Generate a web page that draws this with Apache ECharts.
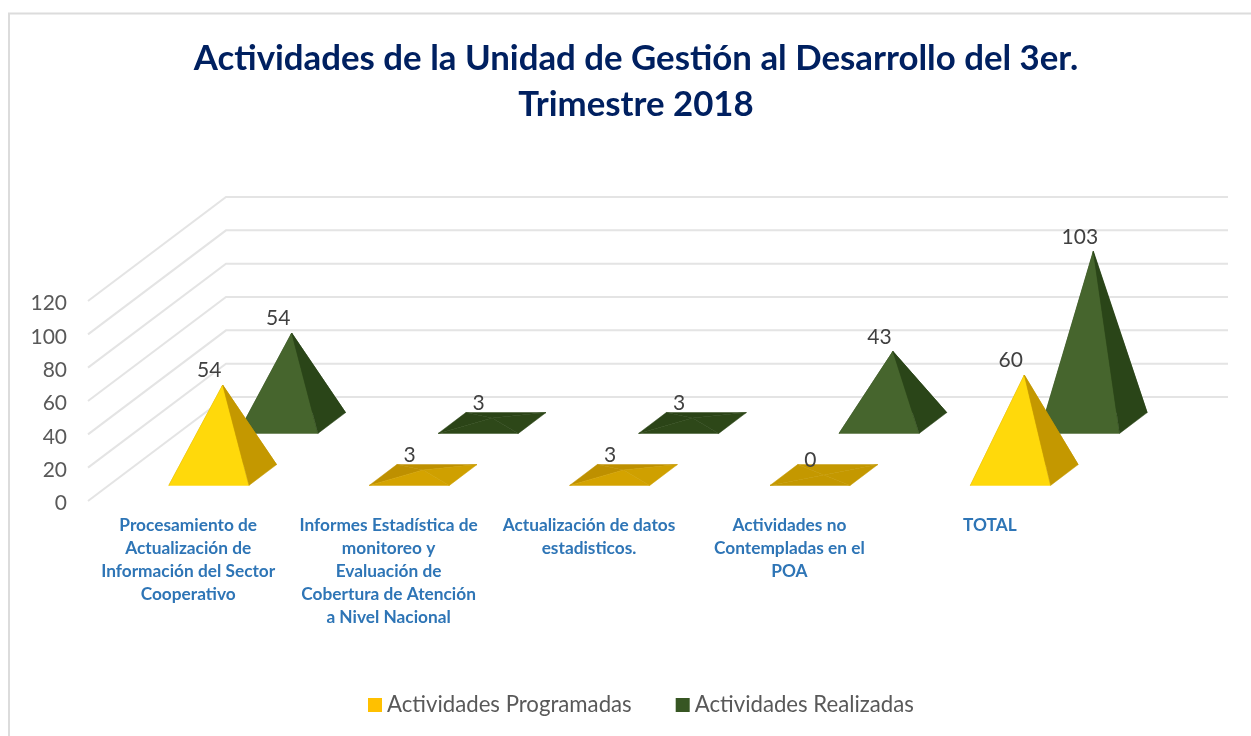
<!DOCTYPE html>
<html><head><meta charset="utf-8">
<style>html,body{margin:0;padding:0;background:#fff}#c{width:1251px;height:736px}</style>
<script src="https://cdn.jsdelivr.net/npm/echarts@6/dist/echarts.min.js"></script>
</head><body><div id="c"></div>
<script>
const categories = [
  'Procesamiento de\nActualización de\nInformación del Sector\nCooperativo',
  'Informes Estadística de\nmonitoreo y\nEvaluación de\nCobertura de Atención\na Nivel Nacional',
  'Actualización de datos\nestadisticos.',
  'Actividades no\nContempladas en el\nPOA',
  'TOTAL'
];
const programadas = [54, 3, 3, 0, 60];
const realizadas = [54, 3, 3, 43, 103];
const yTicks = [0, 20, 40, 60, 80, 100, 120];

const DX = 138, DY = -104;
const FONT = 'Lato, "Open Sans", sans-serif';
function pyramid(depth, pal, flatPal, zeroColor) {
  return function (params, api) {
    const i = api.value(0), v = api.value(1);
    const base = api.coord([i, 0]), top = api.coord([i, v]);
    const hw = api.size([1, 0])[0] * 0.2;
    const cx = base[0] + DX * depth, cy = base[1] + DY * depth;
    const ax = cx, ay = cy + (top[1] - base[1]);
    const ox = DX * 0.1, oy = DY * 0.1;
    const fl = [cx - hw - ox, cy - oy], fr = [cx + hw - ox, cy - oy];
    const bl = [cx - hw + ox, cy + oy], br = [cx + hw + ox, cy + oy];
    const apex = [ax, ay];
    const p = v === 0 ? {front: zeroColor, side: zeroColor, back: zeroColor} : (v <= 5 ? flatPal : pal);
    const tri = (pts, c) => ({type: 'polygon', shape: {points: pts}, style: {fill: c, stroke: c, lineWidth: 0.5}});
    return {type: 'group', children: [
      tri([bl, br, apex], p.back),
      tri([fl, bl, apex], p.back),
      tri([fl, fr, apex], p.front),
      tri([fr, br, apex], p.side),
      {type: 'text', x: ax - 13.5, y: ay - 14.5, style: {
        text: String(v), fill: '#404040', font: '21px ' + FONT, align: 'center', verticalAlign: 'middle'}}
    ]};
  };
}
const walls = function (params, api) {
  const v = api.value(0);
  const cs = params.coordSys;
  const y = api.coord([0, v])[1];
  const l = cs.x, r = cs.x + cs.width;
  return {type: 'polyline', shape: {points: [[l, y], [l + DX, y + DY], [r + DX, y + DY]]},
    style: {stroke: '#E4E4E4', lineWidth: 2, fill: null}, silent: true};
};
const yellow = {front: '#FFD90B', side: '#C49800', back: '#C49800'};
const yellowFlat = {front: '#D4A300', side: '#CFA000', back: '#BE9000'};
const green = {front: '#46652D', side: '#2A4518', back: '#2A4518'};
const greenFlat = {front: '#2E4819', side: '#2D4718', back: '#2B4417'};

const chart = echarts.init(document.getElementById('c'), null, {renderer: 'canvas'});
chart.setOption({
  animation: false,
  backgroundColor: '#fff',
  textStyle: {fontFamily: FONT},
  title: {
    text: 'Actividades de la Unidad de Gestión al Desarrollo del 3er.\nTrimestre 2018',
    left: 631, top: 31, textAlign: 'center',
    textStyle: {color: '#002060', fontFamily: FONT, fontWeight: 'bold', fontSize: 34.8, lineHeight: 46}
  },
  legend: {
    left: 363, top: 689, icon: 'rect', itemWidth: 14, itemHeight: 14, itemGap: 44,
    textStyle: {color: '#595959', fontSize: 22.2, fontFamily: FONT},
    data: ['Actividades Programadas', 'Actividades Realizadas'],
    selectedMode: false
  },
  graphic: [{type: 'polyline', silent: true, z: 0,
    shape: {points: [[9, 736], [9, 13.5], [1251, 13.5]]}, style: {stroke: '#DCDCDC', lineWidth: 2, fill: null}}],
  grid: {left: 88, right: 161, top: 301, bottom: 235},
  xAxis: {type: 'category', data: categories, axisLine: {show: false}, axisTick: {show: false}, splitLine: {show: false},
    axisLabel: {interval: 0, margin: 13, color: '#2E75B6', fontWeight: 'bold', fontSize: 17.3, lineHeight: 23, fontFamily: FONT, verticalAlign: 'top'}},
  yAxis: {type: 'value', min: 0, max: 120, interval: 20, axisLine: {show: false}, axisTick: {show: false}, splitLine: {show: false},
    axisLabel: {margin: 21, color: '#595959', fontSize: 21, fontFamily: FONT, verticalAlign: 'top', lineHeight: 5}},
  series: [
    {type: 'custom', name: 'walls', silent: true, z: 1, renderItem: walls, data: yTicks.map(v => [v]), encode: {y: 0}, clip: false},
    {type: 'custom', name: 'Actividades Realizadas', z: 2, silent: true, itemStyle: {color: '#375623'}, clip: false,
      renderItem: pyramid(0.75, green, greenFlat, '#2A4518'), data: realizadas.map((v, i) => [i, v]), encode: {x: 0, y: 1}},
    {type: 'custom', name: 'Actividades Programadas', z: 3, silent: true, itemStyle: {color: '#FFC000'}, clip: false,
      renderItem: pyramid(0.25, yellow, yellowFlat, '#C49800'), data: programadas.map((v, i) => [i, v]), encode: {x: 0, y: 1}}
  ]
});
</script></body></html>
